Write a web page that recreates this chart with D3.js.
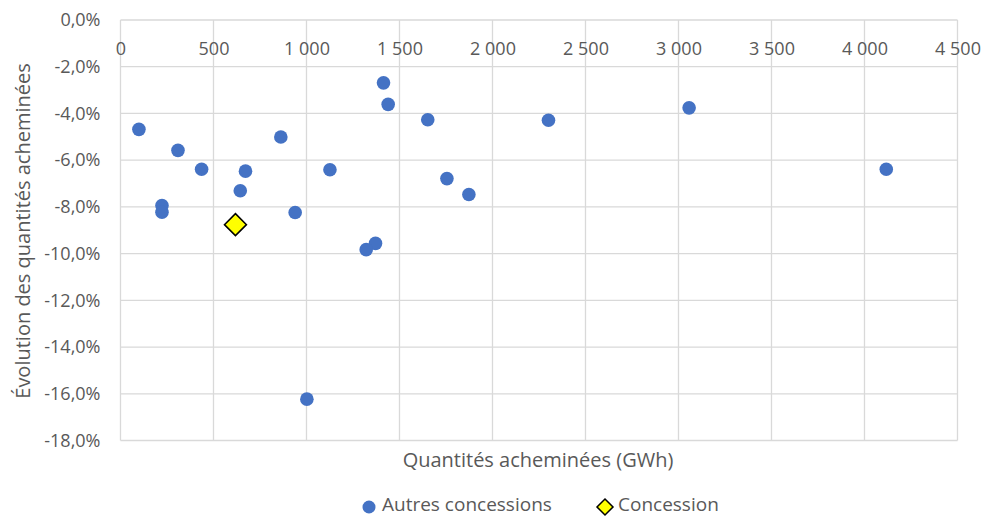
<!DOCTYPE html>
<html><head><meta charset="utf-8">
<script src="https://cdn.jsdelivr.net/npm/d3@7"></script>
<style>
body{margin:0;background:#fff;}
text{font-family:"Open Sans","Noto Sans",sans-serif;fill:#595959;}
</style></head>
<body><svg id="c" width="983" height="517"></svg>
<script>
const autresX = [99, 309, 436, 223, 223, 672, 644, 862, 939, 1126, 1414, 1439, 1652, 1755, 1873, 1371, 1321, 1002, 2301, 3057, 4117];
const autresY = [-4.68, -5.58, -6.39, -7.94, -8.23, -6.47, -7.31, -5.01, -8.24, -6.41, -2.69, -3.61, -4.27, -6.79, -7.47, -9.56, -9.83, -16.23, -4.29, -3.76, -6.39];
const concessionX = [618];
const concessionY = [-8.76];
const xTicks = [0, 500, 1000, 1500, 2000, 2500, 3000, 3500, 4000, 4500];
const yTicks = [0, -2, -4, -6, -8, -10, -12, -14, -16, -18];
const seriesNames = ["Autres concessions", "Concession"];

const svg = d3.select("#c");
const L = 120.5, R = 957.5, T = 20, B = 440.5;
const x = d3.scaleLinear().domain([0, 4500]).range([L, R]);
const y = d3.scaleLinear().domain([-18, 0]).range([B, T]);
const fmtX = d => d3.format(",")(d).replace(/,/g, "\u00a0");
const fmtY = d => d.toFixed(1).replace(".", ",") + "%";

// gridlines
svg.append("g").selectAll("line").data(xTicks).join("line")
  .attr("x1", d => x(d)).attr("x2", d => x(d)).attr("y1", T).attr("y2", B)
  .attr("stroke", "#d9d9d9").attr("stroke-width", 1.3);
svg.append("g").selectAll("line").data(yTicks).join("line")
  .attr("x1", L).attr("x2", R).attr("y1", d => y(d)).attr("y2", d => y(d))
  .attr("stroke", "#d9d9d9").attr("stroke-width", 1.3);

// y axis labels
const yAxis = d3.axisLeft(y).tickValues(yTicks).tickFormat(fmtY).tickSize(0).tickPadding(20);
const gy = svg.append("g").attr("transform", `translate(${L},0)`).call(yAxis);
gy.select(".domain").remove();
gy.selectAll("text").attr("font-size", 18).attr("fill", "#595959").attr("font-family", "'Open Sans'");

// x axis labels (at the zero line, top)
const xAxis = d3.axisBottom(x).tickValues(xTicks).tickFormat(fmtX).tickSize(0).tickPadding(22);
const gx = svg.append("g").attr("transform", `translate(0,${y(0)})`).call(xAxis);
gx.select(".domain").remove();
gx.selectAll("text").attr("font-size", 18).attr("fill", "#595959").attr("font-family", "'Open Sans'");

// points
svg.append("g").selectAll("circle").data(autresX.map((v, i) => [v, autresY[i]])).join("circle")
  .attr("cx", d => x(d[0])).attr("cy", d => y(d[1])).attr("r", 6.8).attr("fill", "#4472C4");
const dia = 11;
svg.append("g").selectAll("path").data(concessionX.map((v, i) => [v, concessionY[i]])).join("path")
  .attr("d", d => { const cx = x(d[0]), cy = y(d[1]); return `M${cx},${cy-dia}L${cx+dia},${cy}L${cx},${cy+dia}L${cx-dia},${cy}Z`; })
  .attr("fill", "#FFFF00").attr("stroke", "#000").attr("stroke-width", 1.5);

// axis titles
svg.append("text").attr("x", 538).attr("y", 467).attr("text-anchor", "middle")
  .attr("font-size", 20).text("Quantités acheminées (GWh)");
svg.append("text").attr("transform", `translate(30,231) rotate(-90)`).attr("text-anchor", "middle")
  .attr("font-size", 20).text("Évolution des quantités acheminées");

// legend
const lg = svg.append("g");
lg.append("circle").attr("cx", 369).attr("cy", 507).attr("r", 6.5).attr("fill", "#4472C4");
lg.append("text").attr("x", 382).attr("y", 511).attr("font-size", 19).text(seriesNames[0]);
lg.append("path").attr("d", "M605,499L613,507L605,515L597,507Z").attr("fill", "#FFFF00").attr("stroke", "#000").attr("stroke-width", 1.5);
lg.append("text").attr("x", 618).attr("y", 511).attr("font-size", 19).text(seriesNames[1]);
</script></body></html>
